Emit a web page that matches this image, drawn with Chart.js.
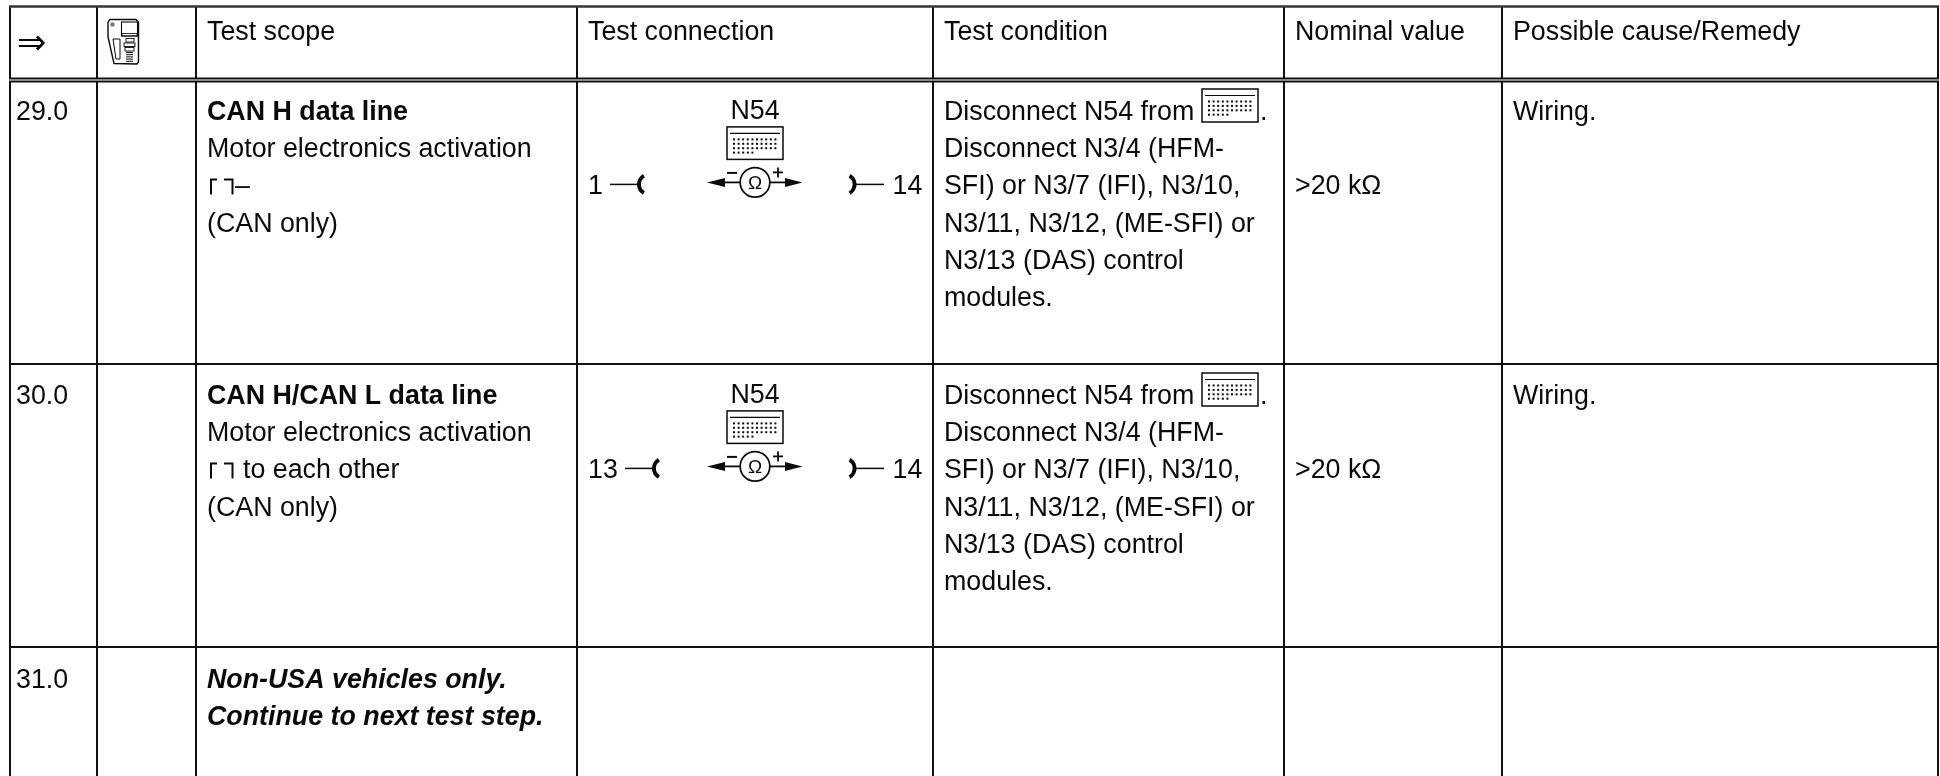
<!DOCTYPE html>
<html>
<head>
<meta charset="utf-8">
<title>Test table</title>
<script src="https://cdn.jsdelivr.net/npm/chart.js@4/dist/chart.umd.min.js"></script>
<style>
  html, body { margin: 0; padding: 0; background: #fff; }
  canvas { display: block; }
</style>
</head>
<body>
<canvas id="table-chart" width="1940" height="776"></canvas>
<script>
// table content
const headerLabels = ['Test scope', 'Test connection', 'Test condition', 'Nominal value', 'Possible cause/Remedy'];
const stepNumbers = ['29.0', '30.0', '31.0'];
const scopeTitles = ['CAN H data line', 'CAN H/CAN L data line'];
const scopeSubtitle = 'Motor electronics activation';
const scopeThirdLines = ['–', 'to each other'];
const scopeFootnote = '(CAN only)';
const skipLines = ['Non-USA vehicles only.', 'Continue to next test step.'];
const conditionLines = ['Disconnect N54 from', 'Disconnect N3/4 (HFM-', 'SFI) or N3/7 (IFI), N3/10,', 'N3/11, N3/12, (ME-SFI) or', 'N3/13 (DAS) control', 'modules.'];
const connectorName = 'N54';
const pinsLeft = ['1', '13'];
const pinsRight = ['14', '14'];
const nominalValues = ['>20 kΩ', '>20 kΩ'];
const remedies = ['Wiring.', 'Wiring.'];

// table layout, in page pixels
const columnEdges = [10, 97, 196, 577, 933, 1284, 1502, 1938];
const textColumns = [16, 207, 588, 944, 1295, 1513];
const rowLines = [364, 647];
const rowBaselines = [120, 404, 688];
const lineHeight = 37.2;
const FONT = '"Liberation Sans", Arial, sans-serif';
const FONT_SIZE = 26.8;
const INK = '#0a0a0a';

function ruleDataset(points, width, color) {
    return {
        data: points,
        borderColor: color || '#111',
        borderWidth: width,
        pointRadius: 0,
        showLine: true,
        fill: false,
        tension: 0
    };
}

const tableRules = [];
const tableLeft = columnEdges[0];
const tableRight = columnEdges[columnEdges.length - 1];
tableRules.push(ruleDataset([{ x: tableLeft - 1, y: 6.5 }, { x: tableRight + 1, y: 6.5 }], 2.5, '#333'));
tableRules.push(ruleDataset([{ x: tableLeft - 1, y: 78.5 }, { x: tableRight + 1, y: 78.5 }], 1.8));
tableRules.push(ruleDataset([{ x: tableLeft - 1, y: 81.5 }, { x: tableRight + 1, y: 81.5 }], 1.8));
rowLines.forEach(y => {
    tableRules.push(ruleDataset([{ x: tableLeft, y }, { x: tableRight, y }], 1.8));
});
columnEdges.forEach(x => {
    tableRules.push(ruleDataset([{ x, y: 7 }, { x, y: 78 }], 2));
    tableRules.push(ruleDataset([{ x, y: 82 }, { x, y: 776 }], 2));
});

// drawing helpers, they go through the chart's scales
function makePen(chart) {
    const { ctx, scales } = chart;
    const px = v => scales.x.getPixelForValue(v);
    const py = v => scales.y.getPixelForValue(v);
    return {
        ctx, px, py,
        text(str, x, y, font, align) {
            ctx.font = font;
            ctx.fillStyle = INK;
            ctx.textAlign = align || 'left';
            ctx.textBaseline = 'alphabetic';
            ctx.fillText(str, px(x), py(y));
        },
        line(points, width) {
            ctx.beginPath();
            points.forEach((p, i) => {
                if (i === 0) ctx.moveTo(px(p[0]), py(p[1]));
                else ctx.lineTo(px(p[0]), py(p[1]));
            });
            ctx.lineWidth = width || 1;
            ctx.strokeStyle = INK;
            ctx.stroke();
        },
        rect(x, y, w, h, width) {
            ctx.lineWidth = width || 1;
            ctx.strokeStyle = INK;
            ctx.strokeRect(px(x), py(y), w, h);
        },
        dot(x, y, s) {
            ctx.fillStyle = INK;
            ctx.fillRect(px(x), py(y), s, s);
        },
        poly(points) {
            ctx.beginPath();
            points.forEach((p, i) => {
                if (i === 0) ctx.moveTo(px(p[0]), py(p[1]));
                else ctx.lineTo(px(p[0]), py(p[1]));
            });
            ctx.closePath();
            ctx.fillStyle = INK;
            ctx.fill();
        }
    };
}

function drawKeypad(pen, x, y, w, h) {
    pen.rect(x, y, w, h, 1.5);
    pen.line([[x + 3, y + 6.5], [x + w - 3, y + 6.5]], 1.2);
    const rowCounts = [10, 10, 10, 5];
    rowCounts.forEach((count, r) => {
        for (let c = 0; c < count; c++) {
            pen.dot(x + 6 + c * 4.6, y + 11.5 + r * 4.4, 2);
        }
    });
}

function drawBrackets(pen, y) {
    pen.line([[211, y], [211, y - 15], [217, y - 15]], 2);
    pen.line([[224, y - 15], [232.5, y - 15], [232.5, y]], 2);
}

// thick arc, side -1 opens right like "(", side 1 opens left like ")"
function drawCrescent(pen, outerX, y, side) {
    const { ctx, px, py } = pen;
    const radius = 10;
    const cx = outerX - side * (radius + 1.9);
    const start = side < 0 ? Math.PI * 2 / 3 : -Math.PI / 3;
    const end = side < 0 ? Math.PI * 4 / 3 : Math.PI / 3;
    ctx.beginPath();
    ctx.arc(px(cx), py(y), radius, start, end);
    ctx.lineWidth = 3.8;
    ctx.strokeStyle = INK;
    ctx.stroke();
}

function drawConnection(pen, row, baseline) {
    const regular = `${FONT_SIZE}px ${FONT}`;
    const mid = baseline - 10;
    pen.text(connectorName, 755, baseline - 75, regular, 'center');
    drawKeypad(pen, 727, baseline - 67.5, 56, 32.5);
    pen.text(pinsLeft[row], 588, baseline, regular);
    const lineStart = row === 0 ? 610 : 625;
    pen.line([[lineStart, mid], [lineStart + 28, mid]], 1.5);
    drawCrescent(pen, lineStart + 27, mid, -1);
    pen.text(pinsRight[row], 892.5, baseline, regular);
    pen.line([[855.5, mid], [884, mid]], 1.5);
    drawCrescent(pen, 856.5, mid, 1);

    const { ctx, px, py } = pen;
    const meterY = baseline - 12;
    ctx.beginPath();
    ctx.arc(px(755), py(meterY), 14.8, 0, Math.PI * 2);
    ctx.lineWidth = 1.7;
    ctx.strokeStyle = INK;
    ctx.stroke();
    pen.text('Ω', 755, meterY + 6.8, `19px ${FONT}`, 'center');
    pen.line([[718, meterY], [740, meterY]], 1.8);
    pen.line([[770, meterY], [792, meterY]], 1.8);
    pen.poly([[707, meterY], [725, meterY - 4.5], [725, meterY + 4.5]]);
    pen.poly([[802.5, meterY], [785, meterY - 4.5], [785, meterY + 4.5]]);
    pen.line([[727, meterY - 9.5], [737, meterY - 9.5]], 2);
    pen.line([[773, meterY - 10], [783, meterY - 10]], 1.8);
    pen.line([[778, meterY - 15], [778, meterY - 5]], 1.8);
}

function drawDeviceIcon(pen) {
    pen.line([[108, 22], [110, 19.5], [136, 19.5], [138.5, 22], [138.5, 62], [137, 64], [114, 63.5], [108, 37], [108, 22]], 1.4);
    pen.rect(121.5, 22, 16, 14, 1.1);
    pen.rect(122, 33.5, 15, 2.5, 0.8);
    pen.rect(126, 38.5, 8, 3.5, 0.9);
    pen.rect(124, 43, 11, 3.5, 0.9);
    pen.rect(125, 47.5, 9, 3.5, 0.9);
    for (let r = 0; r < 5; r++) {
        pen.line([[126, 52.5 + r * 2.2], [133, 52.5 + r * 2.2]], 1);
    }
    pen.line([[113, 39], [120, 39], [120, 59], [116, 59], [113, 39]], 1);
    pen.ctx.beginPath();
    pen.ctx.arc(pen.px(112.5), pen.py(24.5), 2.2, 0, Math.PI * 2);
    pen.ctx.fillStyle = '#777';
    pen.ctx.fill();
}

const tableTextPlugin = {
    id: 'tableText',
    afterDatasetsDraw(chart) {
        const pen = makePen(chart);
        const regular = `${FONT_SIZE}px ${FONT}`;
        const bold = `bold ${FONT_SIZE}px ${FONT}`;
        const boldItalic = `italic bold ${FONT_SIZE}px ${FONT}`;

        // header
        pen.text('⇒', 17, 54, '35px "DejaVu Sans"');
        drawDeviceIcon(pen);
        headerLabels.forEach((label, i) => {
            pen.text(label, textColumns[i + 1], 40, regular);
        });

        stepNumbers.forEach((step, i) => {
            pen.text(step, textColumns[0], rowBaselines[i], regular);
        });

        scopeTitles.forEach((title, row) => {
            const base = rowBaselines[row];
            pen.text(title, textColumns[1], base, bold);
            pen.text(scopeSubtitle, textColumns[1], base + lineHeight, regular);
            drawBrackets(pen, base + lineHeight * 2);
            pen.text(scopeThirdLines[row], row === 0 ? 235 : 243, base + lineHeight * 2, regular);
            pen.text(scopeFootnote, textColumns[1], base + lineHeight * 3, regular);

            drawConnection(pen, row, base + lineHeight * 2);

            conditionLines.forEach((line, n) => {
                pen.text(line, textColumns[3], base + lineHeight * n, regular);
            });
            drawKeypad(pen, 1202, base - 31, 56, 33);
            pen.text('.', 1260, base, regular);

            pen.text(nominalValues[row], textColumns[4], base + lineHeight * 2, regular);
            pen.text(remedies[row], textColumns[5], base, regular);
        });

        skipLines.forEach((line, n) => {
            pen.text(line, textColumns[1], rowBaselines[2] + lineHeight * n, boldItalic);
        });
    }
};

new Chart(document.getElementById('table-chart').getContext('2d'), {
    type: 'scatter',
    data: { datasets: tableRules },
    options: {
        responsive: false,
        animation: false,
        layout: { padding: 0 },
        plugins: { legend: { display: false }, tooltip: { enabled: false } },
        scales: {
            x: { type: 'linear', min: 0, max: 1940, display: false },
            y: { type: 'linear', min: 0, max: 776, reverse: true, display: false }
        }
    },
    plugins: [tableTextPlugin]
});
</script>
</body>
</html>
